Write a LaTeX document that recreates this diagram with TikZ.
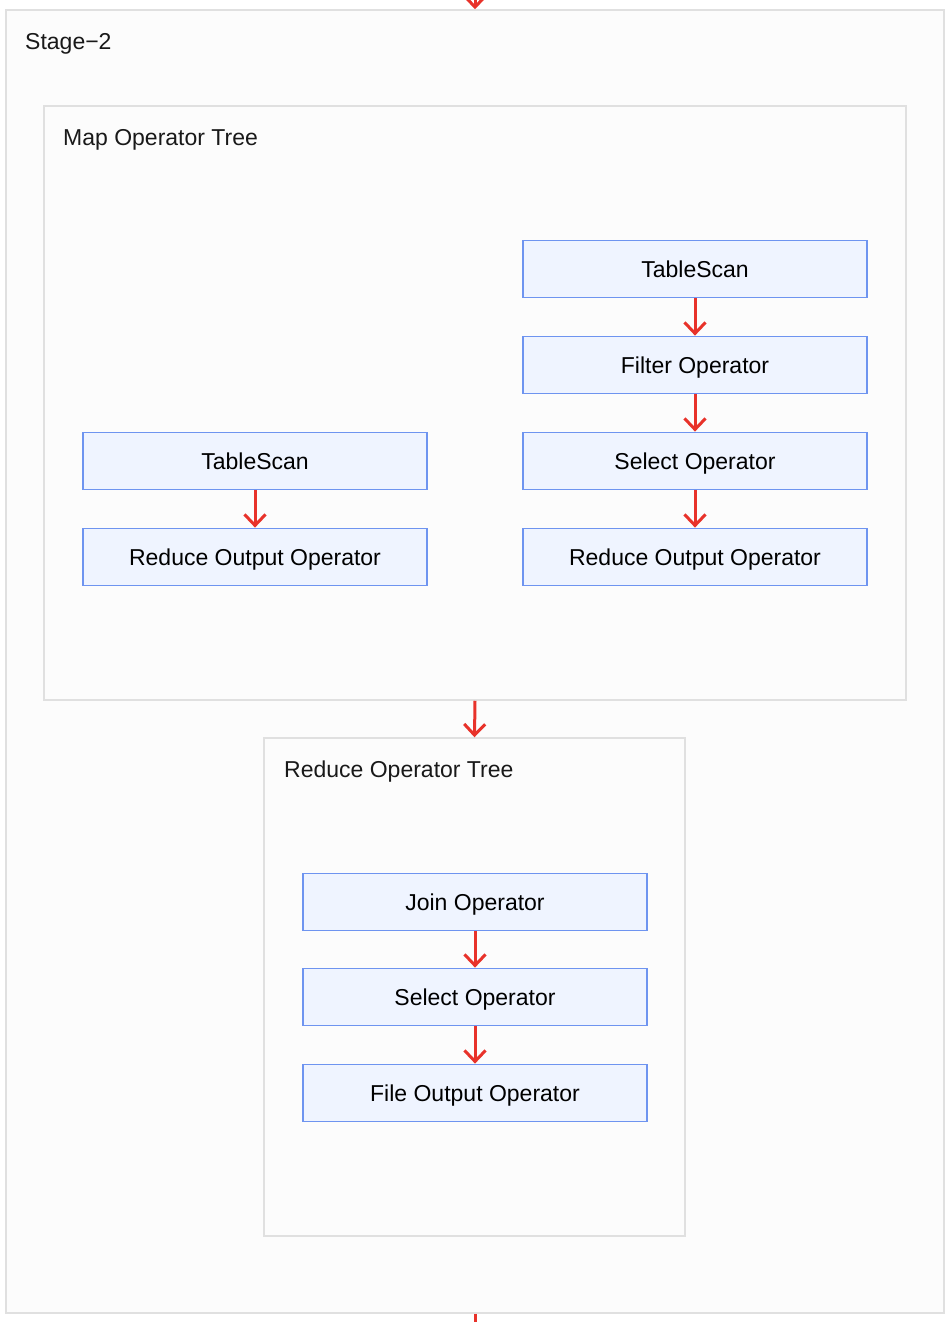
\documentclass[tikz,border=0pt]{standalone}
\usepackage{fontspec}
\setmainfont{Liberation Sans}
\usetikzlibrary{arrows.meta}
\definecolor{opfill}{RGB}{239,244,255}
\definecolor{opline}{RGB}{110,148,240}
\definecolor{frameline}{RGB}{224,224,224}
\definecolor{framefill}{RGB}{252,252,252}
\definecolor{flow}{RGB}{232,50,42}

\begin{document}
\begin{tikzpicture}[x=1pt, y=-1pt, font=\fontsize{23}{27}\selectfont, op/.style = {shape=rectangle, draw=opline, line width=1.8pt, fill=opfill, align=center, minimum height=57pt, minimum width=344pt, inner sep=0pt, text height=16pt, text depth=0pt}, frame/.style = {shape=rectangle, draw=frameline, line width=1.5pt, fill=framefill, inner sep=0pt}, title/.style = {anchor=west, inner sep=0pt, text height=16pt, text depth=0pt, text=black!90}, flowline/.style = {draw=flow, line width=3pt, -{Straight Barb[length=11pt, width=21pt]}}]
	\useasboundingbox[fill=white] (0,0) rectangle (948,1322);
	% frames
	\node[frame, minimum width=938pt, minimum height=1303pt] (stage) at (475,661.5) {};
	\node[frame, minimum width=862pt, minimum height=594pt] (map) at (475,403) {};
	\node[frame, minimum width=421pt, minimum height=498pt] (reduce) at (474.5,987) {};
	\node[title] (stagelabel) at (25,41) {Stage−2};
	\node[title] (maplabel) at (63,137) {Map Operator Tree};
	\node[title] (reducelabel) at (284,769) {Reduce Operator Tree};
	% map side
	\node[op] (scanA) at (255,461) {TableScan};
	\node[op] (rsA) at (255,557) {Reduce Output Operator};
	\node[op] (scanB) at (695,269) {TableScan};
	\node[op] (filterB) at (695,365) {Filter Operator};
	\node[op] (selectB) at (695,461) {Select Operator};
	\node[op] (rsB) at (695,557) {Reduce Output Operator};
	% reduce side
	\node[op] (join) at (475,902) {Join Operator};
	\node[op] (select) at (475,997) {Select Operator};
	\node[op] (fileout) at (475,1093) {File Output Operator};
	\coordinate (inflow) at (475,0);
	\coordinate (outflow) at (475,1322);
	\draw[flowline] (inflow) -- (stage.north);
	\draw[flowline] (scanA) -- (rsA);
	\draw[flowline] (scanB) -- (filterB);
	\draw[flowline] (filterB) -- (selectB);
	\draw[flowline] (selectB) -- (rsB);
	\draw[flowline] (map.south) -- (reduce.north);
	\draw[flowline] (join) -- (select);
	\draw[flowline] (select) -- (fileout);
	\draw[draw=flow, line width=3pt] (stage.south) -- (outflow);
\end{tikzpicture}
\end{document}
